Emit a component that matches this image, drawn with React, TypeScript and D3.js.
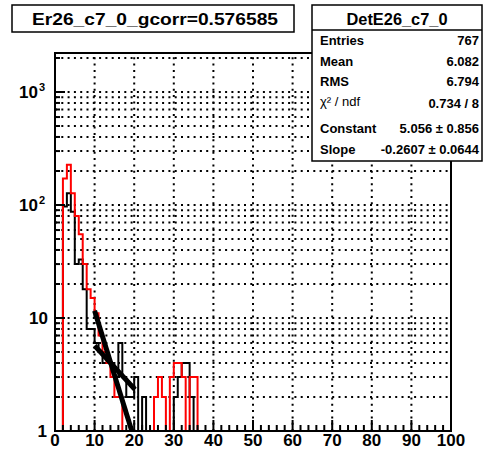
import React from "react";
import * as d3 from "d3";

// ---- data ----
const binEdgesStart = 0; // first bin low edge
const binWidth = 1;
const redCounts = [0, 0, 172, 227, 127, 80, 55, 30, 18, 15, 11, 7, 5, 4, 3, 2, 2, 1, 1, 1, 0, 0, 0, 0, 1, 2, 3, 2, 1, 3, 4, 4, 3, 1, 3, 3, 0, 0, 0, 0];
const blackCounts = [0, 0, 97, 127, 87, 30, 33, 18, 8, 8, 6, 5, 4, 4, 4, 3, 6, 3, 2, 2, 3, 1, 2, 1, 1, 1, 1, 1, 1, 1, 2, 3, 4, 4, 2, 1, 0, 0, 0, 0];
const fitConstant = 5.056;
const fitSlope = -0.2607;
const fitRange = [10, 19.4];
const fit2Constant = 2.617;
const fit2Slope = -0.0877;
const fit2Range = [10, 20.2];
const xTicks = [0, 10, 20, 30, 40, 50, 60, 70, 80, 90, 100];
const yDecades = [1, 10, 100, 1000];
const titleText = "Er26_c7_0_gcorr=0.576585";
const statsTitle = "DetE26_c7_0";
const statsLabels = ["Entries", "Mean", "RMS", "χ² / ndf", "Constant", "Slope"];
const statsValues = ["767", "6.082", "6.794", "0.734 / 8", "5.056 ± 0.856", "-0.2607 ± 0.0644"];

const W = 485, H = 452;
const FX0 = 55, FX1 = 451, FY0 = 53, FY1 = 431;
const FONT = "'Liberation Sans', Arial, Helvetica, sans-serif";

export default function App() {
  const x = d3.scaleLinear().domain([0, 100]).range([FX0, FX1]);
  const y = d3.scaleLog().domain([1, Math.pow(10, 3.345)]).range([FY1, FY0]);

  const histPath = (counts: number[]) => {
    const pts: [number, number][] = counts.map((c, i) => [binEdgesStart + i * binWidth, Math.max(c, 1)]);
    pts.push([100, 1]);
    pts.unshift([0, 1]);
    const line = d3
      .line<[number, number]>()
      .x((d) => x(d[0]))
      .y((d) => y(d[1]))
      .curve(d3.curveStepAfter);
    return line(pts) || "";
  };

  const fitPath = (a: number, b: number, r: number[]) => {
    const xs = d3.range(r[0], r[1] + 0.001, 0.1);
    const line = d3
      .line<number>()
      .x((d) => x(d))
      .y((d) => y(Math.exp(a + b * d)));
    return line(xs) || "";
  };

  // y gridlines at every log tick
  const yGrid: number[] = [];
  for (const dec of yDecades) {
    for (let m = 1; m <= 9; m++) {
      const v = dec * m;
      if (v > 1 && v < Math.pow(10, 3.345)) yGrid.push(v);
    }
  }
  const xMinor = d3.range(0, 101, 2);

  return (
    <svg width={W} height={H} style={{ position: "absolute", left: 0, top: 0, background: "#fff" }} fontFamily={FONT}>
      <rect x={0} y={0} width={W} height={H} fill="#fff" />
      <defs>
        <clipPath id="frameClip">
          <rect x={FX0} y={FY0} width={FX1 - FX0} height={FY1 - FY0} />
        </clipPath>
      </defs>

      {/* grid */}
      <g stroke="#000" strokeWidth={2} strokeDasharray="2 4.3">
        {xTicks.filter((t) => t > 0 && t < 100).map((t) => (
          <line key={"gx" + t} x1={x(t)} x2={x(t)} y1={FY1} y2={FY0} />
        ))}
        {yGrid.map((v) => (
          <line key={"gy" + v} x1={FX0} x2={FX1} y1={y(v)} y2={y(v)} />
        ))}
      </g>

      {/* histograms */}
      <g clipPath="url(#frameClip)" fill="none">
        <path d={histPath(blackCounts)} stroke="#000" strokeWidth={2} />
        <path d={histPath(redCounts)} stroke="#ff0000" strokeWidth={2} />
        <path d={fitPath(fitConstant, fitSlope, fitRange)} stroke="#000" strokeWidth={5} />
        <path d={fitPath(fit2Constant, fit2Slope, fit2Range)} stroke="#000" strokeWidth={5} />
      </g>

      {/* axis ticks */}
      <g stroke="#000" strokeWidth={2}>
        {xMinor.map((t) => (
          <line key={"xt" + t} x1={x(t)} x2={x(t)} y1={FY1} y2={FY1 - (t % 10 === 0 ? 11 : 6)} />
        ))}
        {yGrid.concat(yDecades).map((v) => (
          <line key={"yt" + v} x1={FX0} x2={FX0 + (Number.isInteger(Math.log10(v)) ? 10 : 5)} y1={y(v)} y2={y(v)} />
        ))}
      </g>

      {/* frame */}
      <rect x={FX0} y={FY0} width={FX1 - FX0} height={FY1 - FY0} fill="none" stroke="#000" strokeWidth={2} />

      {/* x labels */}
      <g fontSize={17} fontWeight="bold" textAnchor="middle">
        {xTicks.map((t) => (
          <text key={"xl" + t} x={x(t)} y={446}>{t}</text>
        ))}
      </g>

      {/* y labels */}
      <g fontSize={17} fontWeight="bold">
        {yDecades.map((v) => {
          const e = Math.round(Math.log10(v));
          const yy = y(v) + 6;
          if (e === 0) return <text key="yl0" x={47} y={yy} textAnchor="end">1</text>;
          if (e === 1) return <text key="yl1" x={48} y={yy} textAnchor="end">10</text>;
          return (
            <g key={"yl" + e}>
              <text x={38} y={yy} textAnchor="end">10</text>
              <text x={39} y={yy - 7} fontSize={11}>{e}</text>
            </g>
          );
        })}
      </g>

      {/* title box */}
      <rect x={12} y={5} width={282} height={27} fill="#fff" stroke="#000" strokeWidth={1.5} />
      <text x={155} y={25} fontSize={17} fontWeight="bold" textAnchor="middle" textLength={246} lengthAdjust="spacingAndGlyphs">
        {titleText}
      </text>

      {/* stats box */}
      <rect x={312} y={5} width={170} height={156} fill="#fff" stroke="#000" strokeWidth={1.5} />
      <line x1={312} x2={482} y1={30} y2={30} stroke="#000" strokeWidth={1.5} />
      <text x={397} y={25} fontSize={17} fontWeight="bold" textAnchor="middle" textLength={101} lengthAdjust="spacingAndGlyphs">
        {statsTitle}
      </text>
      <g fontSize={13} fontWeight="bold">
        {statsLabels.map((l, i) => {
          const ys = [44.5, 65.5, 85.5, 106, 132.5, 153.5];
          return (
            <g key={"st" + i}>
              <text x={320} y={ys[i]} fontWeight={i === 3 ? "normal" : "bold"}>{l}</text>
              <text x={479} y={ys[i] + (i === 3 ? 2 : 0)} textAnchor="end">{statsValues[i]}</text>
            </g>
          );
        })}
      </g>
    </svg>
  );
}
